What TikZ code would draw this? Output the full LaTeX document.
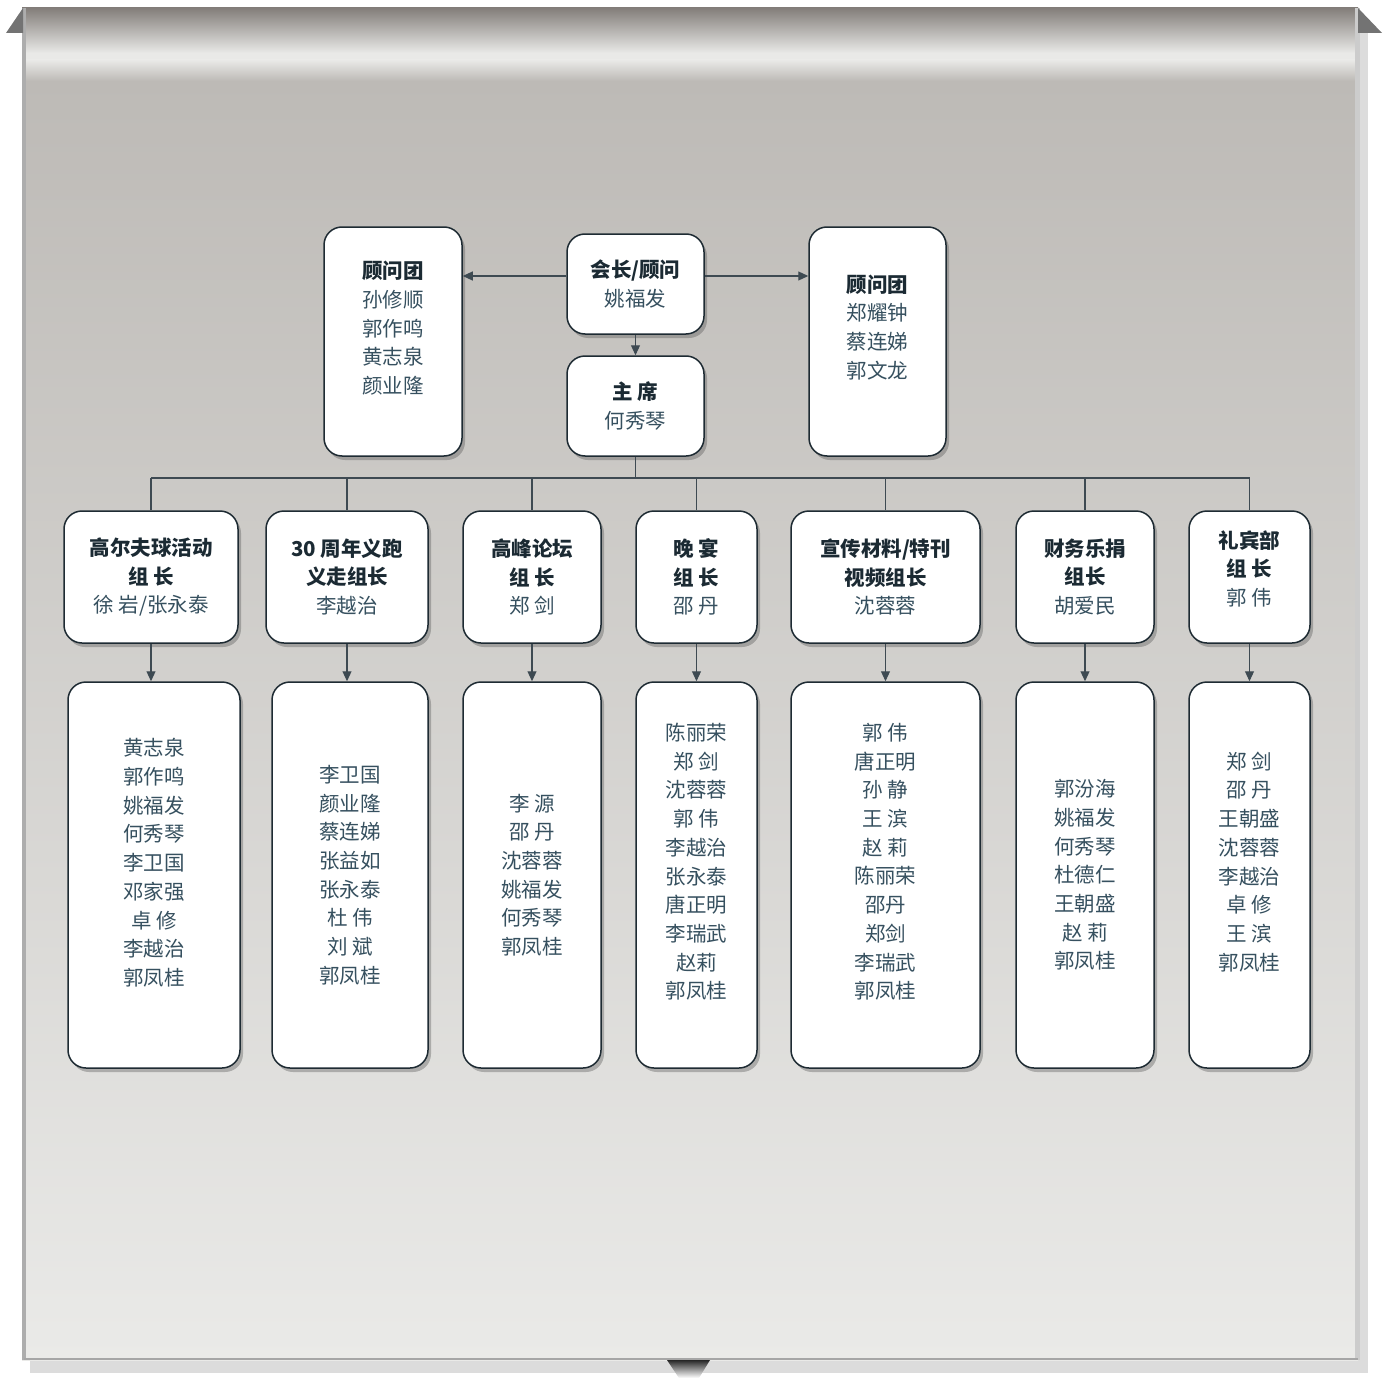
\documentclass[tikz,border=0pt]{standalone}
\usepackage{fontspec}
\usetikzlibrary{arrows.meta,shadows}
\newfontfamily\cjk{Noto Sans CJK SC}
\definecolor{cardline}{HTML}{1E2B33}
\definecolor{headtext}{HTML}{1B2A33}
\definecolor{nametext}{HTML}{36505F}
\definecolor{linkcol}{HTML}{3E4A52}
\definecolor{bandtop}{HTML}{837E7A}
\definecolor{bandlight}{HTML}{E9E9E7}
\definecolor{panelmid}{HTML}{BDBAB6}
\definecolor{panellow}{HTML}{EAEAE8}
\tikzset{
  card/.style={draw=cardline, line width=1.5pt, fill=white, rounded corners=18pt,
    align=center, text=nametext, font=\cjk\fontsize{20.5}{28.7}\selectfont,
    drop shadow={shadow xshift=3pt, shadow yshift=-4pt, opacity=.35, fill=black!70}},
  lift/.style={text depth=#1},
  link/.style={draw=linkcol, line width=1.1pt},
  arr/.style={link, -{Triangle[length=10pt, width=9pt]}},
}
\newcommand{\hd}[1]{{\bfseries\color{headtext}#1}}

\begin{document}
\begin{tikzpicture}[x=1pt, y=-1pt]
  \useasboundingbox (0,0) rectangle (1387,1378);

  % hanging panel
  \fill[black!30, opacity=.45] (30,30) rectangle (1368,1373);
  \shade[top color=panelmid, bottom color=panellow] (22,80) rectangle (1358,1360);
  \shade[top color=bandtop, bottom color=bandlight] (22,8) rectangle (1358,53);
  \fill[bandlight] (22,53) rectangle (1358,60);
  \shade[top color=bandlight, bottom color=panelmid] (22,60) rectangle (1358,81);
  \fill[black!32] (22,8) rectangle (26,1360);
  \fill[black!20] (1355,8) rectangle (1360,1360);
  \draw[black!35, line width=2pt] (24,1359) -- (1358,1359);
  \fill[black!55] (6,33) -- (23,8) -- (23,33) -- cycle;
  \fill[black!55] (1358,8) -- (1382,33) -- (1358,33) -- cycle;
  \shade[top color=black!85, bottom color=white] (667,1360) -- (710,1360) -- (699,1378) -- (679,1378) -- cycle;

  % top
  \node[card, minimum width=137, minimum height=100] (pres) at (635.5,284) {\hd{会长/顾问}\\姚福发};
  \node[card, minimum width=137, minimum height=100] (chair) at (635.5,406) {\hd{主 席}\\何秀琴};
  \node[card, lift=28pt, minimum width=138, minimum height=229] (advL) at (393,341.5) {\hd{顾问团}\\孙修顺\\郭作鸣\\黄志泉\\颜业隆};
  \node[card, lift=30pt, minimum width=137, minimum height=229] (advR) at (877.5,341.5) {\hd{顾问团}\\郑耀钟\\蔡连娣\\郭文龙};

  \draw[arr] (pres.west |- 0,276) -- (advL.east |- 0,276);
  \draw[arr] (pres.east |- 0,276) -- (advR.west |- 0,276);
  \draw[arr] (pres) -- (chair);

  % groups
  \node[card, minimum width=174, minimum height=132] (g1) at (151,577) {\hd{高尔夫球活动}\\\hd{组 长}\\徐 岩/张永泰};
  \node[card, minimum width=162, minimum height=132] (g2) at (347,577) {\hd{30 周年义跑}\\\hd{义走组长}\\李越治};
  \node[card, minimum width=138, minimum height=132] (g3) at (532,577) {\hd{高峰论坛}\\\hd{组 长}\\郑 剑};
  \node[card, minimum width=121, minimum height=132] (g4) at (696.5,577) {\hd{晚 宴}\\\hd{组 长}\\邵 丹};
  \node[card, minimum width=189, minimum height=132] (g5) at (885.5,577) {\hd{宣传材料/特刊}\\\hd{视频组长}\\沈蓉蓉};
  \node[card, minimum width=138, minimum height=132] (g6) at (1085,577) {\hd{财务乐捐}\\\hd{组长}\\胡爱民};
  \node[card, lift=18pt, minimum width=121, minimum height=132] (g7) at (1249.5,577) {\hd{礼宾部}\\\hd{组 长}\\郭 伟};

  % members
  \node[card, lift=26pt, minimum width=172, minimum height=386] (m1) at (154,875) {黄志泉\\郭作鸣\\姚福发\\何秀琴\\李卫国\\邓家强\\卓 修\\李越治\\郭凤桂};
  \node[card, minimum width=156, minimum height=386] (m2) at (350,875) {李卫国\\颜业隆\\蔡连娣\\张益如\\张永泰\\杜 伟\\刘 斌\\郭凤桂};
  \node[card, minimum width=138, minimum height=386] (m3) at (532,875) {李 源\\邵 丹\\沈蓉蓉\\姚福发\\何秀琴\\郭凤桂};
  \node[card, lift=28pt, minimum width=121, minimum height=386] (m4) at (696.5,875) {陈丽荣\\郑 剑\\沈蓉蓉\\郭 伟\\李越治\\张永泰\\唐正明\\李瑞武\\赵莉\\郭凤桂};
  \node[card, lift=28pt, minimum width=189, minimum height=386] (m5) at (885.5,875) {郭 伟\\唐正明\\孙 静\\王 滨\\赵 莉\\陈丽荣\\邵丹\\郑剑\\李瑞武\\郭凤桂};
  \node[card, minimum width=138, minimum height=386] (m6) at (1085,875) {郭汾海\\姚福发\\何秀琴\\杜德仁\\王朝盛\\赵 莉\\郭凤桂};
  \node[card, lift=28pt, minimum width=121, minimum height=386] (m7) at (1249.5,875) {郑 剑\\邵 丹\\王朝盛\\沈蓉蓉\\李越治\\卓 修\\王 滨\\郭凤桂};

  % links
  \coordinate (bus) at (635.5,478);
  \draw[link] (chair) -- (bus);
  \draw[link] (g1.north |- bus) -- (g7.north |- bus);
  \foreach \i in {1,...,7}{
    \draw[link] (g\i.north |- bus) -- (g\i.north);
    \draw[arr] (g\i.south) -- (g\i.south |- m\i.north);
  }
\end{tikzpicture}
\end{document}
